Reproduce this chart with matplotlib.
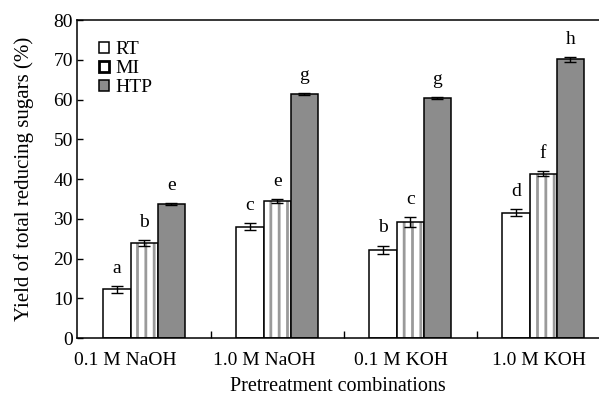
import numpy as np
from matplotlib import pyplot as plt
from matplotlib.patches import Patch

plt.rcParams['font.family'] = ['Liberation Serif', 'DejaVu Serif']
plt.rcParams['hatch.linewidth'] = 2.0

groups = ['0.1 M NaOH', '1.0 M NaOH', '0.1 M KOH', '1.0 M KOH']
series = ['RT', 'MI', 'HTP']
rt = [12.3, 28.0, 22.3, 31.6]
mi = [24.0, 34.4, 29.2, 41.4]
htp = [33.8, 61.5, 60.4, 70.2]
rt_err = [0.9, 0.9, 1.0, 0.9]
mi_err = [0.7, 0.5, 1.3, 0.6]
htp_err = [0.2, 0.2, 0.2, 0.6]
rt_lab = ['a', 'c', 'b', 'd']
mi_lab = ['b', 'e', 'c', 'f']
htp_lab = ['e', 'g', 'g', 'h']

fig = plt.figure(figsize=(5.99, 3.96), dpi=100)
ax = fig.add_axes([0.1285, 0.146, 0.8715, 0.803])

x = np.arange(len(groups))
w = 0.205
fills = ['white', 'white', '#8c8c8c']
hatches = [None, '||', None]
vals = [rt, mi, htp]
errs = [rt_err, mi_err, htp_err]
labs = [rt_lab, mi_lab, htp_lab]

for i in range(3):
    pos = x + (i - 1) * w
    if hatches[i]:
        # gray stripes first, black outline on top
        ax.bar(pos, vals[i], w, color=fills[i], hatch=hatches[i],
               edgecolor='#9a9a9a', linewidth=0, zorder=2)
        ax.bar(pos, vals[i], w, fill=False, edgecolor='black',
               linewidth=1.1, zorder=2)
    else:
        ax.bar(pos, vals[i], w, color=fills[i], edgecolor='black',
               linewidth=1.1, zorder=2)
    ax.errorbar(pos, vals[i], yerr=errs[i], fmt='none', ecolor='black',
                elinewidth=1.0, capsize=4, capthick=1.0, zorder=3)
    for p, v, e, t in zip(pos, vals[i], errs[i], labs[i]):
        ax.text(p, v + e + 2.3, t, ha='center', va='bottom', fontsize=14)

ax.set_xlim(-0.505, 3.42)
ax.set_ylim(0, 80)
ax.set_yticks(range(0, 81, 10))
ax.tick_params(axis='y', direction='in', length=4, labelsize=14, width=1, pad=3)
ax.set_xticks([-0.14, 0.9, 1.93, 2.97])
ax.set_xticklabels(groups, fontsize=14)
ax.tick_params(axis='x', length=0, pad=10)
ax.set_xticks([0.5, 1.5, 2.5], minor=True)
ax.tick_params(axis='x', which='minor', direction='in', length=5, width=1)
ax.spines['right'].set_visible(False)
for s in ['left', 'top', 'bottom']:
    ax.spines[s].set_linewidth(1.1)

ax.set_xlabel('Pretreatment combinations', fontsize=14.5, labelpad=6)
ax.set_ylabel('Yield of total reducing sugars (%)', fontsize=15, labelpad=14)

handles = [Patch(facecolor=fills[0], edgecolor='black', linewidth=1.1),
           Patch(facecolor='white', edgecolor='black', linewidth=2.0),
           Patch(facecolor=fills[2], edgecolor='black', linewidth=1.1)]
ax.legend(handles, series, loc='upper left', bbox_to_anchor=(0.02, 0.97),
          frameon=False, fontsize=14, handlelength=0.5, handleheight=0.5,
          handletextpad=0.35, labelspacing=0.1, borderaxespad=0.2)

fig.savefig('out.png', dpi=100)
